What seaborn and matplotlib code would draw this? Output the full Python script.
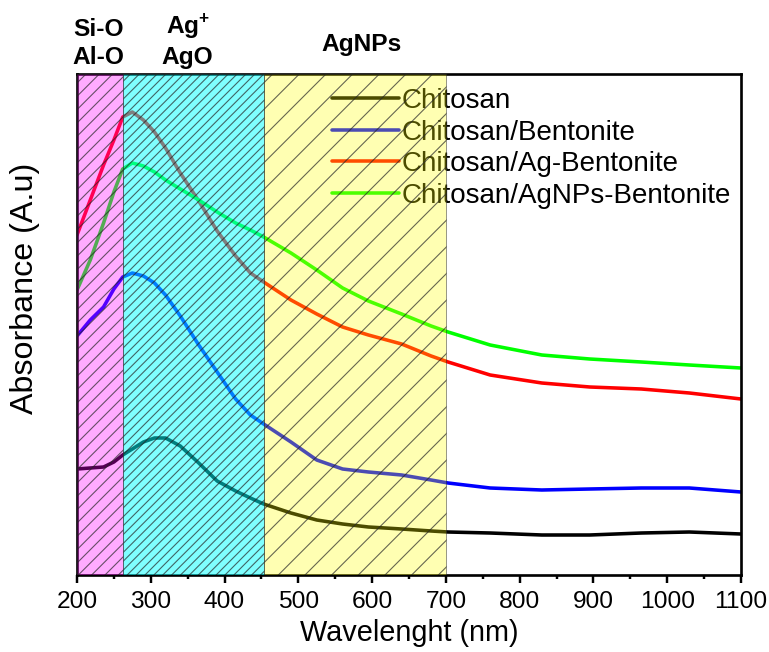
import matplotlib
matplotlib.use("Agg")
import matplotlib.pyplot as plt
import matplotlib.transforms as mtransforms
from matplotlib.ticker import MultipleLocator, NullLocator
import numpy as np
import pandas as pd
import seaborn as sns

# Wavelength grid (nm)
wavelength = [200, 218, 236, 250, 262, 275, 290, 305, 320, 340, 365, 390, 415, 435,
              453, 490, 525, 560, 595, 640, 680, 703, 760, 830, 895, 965, 1030, 1100]

# Absorbance (arbitrary units) for each sample
chitosan = [1.06, 1.07, 1.08, 1.13, 1.20, 1.26, 1.33, 1.37, 1.37, 1.29, 1.12, 0.94, 0.84, 0.77,
            0.71, 0.62, 0.55, 0.51, 0.48, 0.46, 0.44, 0.43, 0.42, 0.40, 0.40, 0.42, 0.43, 0.41]
chitosan_bent = [2.39, 2.55, 2.68, 2.86, 2.98, 3.02, 2.99, 2.92, 2.80, 2.59, 2.30, 2.03, 1.76, 1.60,
                 1.51, 1.33, 1.15, 1.06, 1.03, 1.00, 0.95, 0.92, 0.87, 0.85, 0.86, 0.87, 0.87, 0.83]
chitosan_ag_bent = [3.40, 3.75, 4.10, 4.35, 4.58, 4.63, 4.55, 4.43, 4.27, 4.02, 3.74, 3.44, 3.19, 3.02,
                    2.93, 2.75, 2.61, 2.48, 2.40, 2.31, 2.19, 2.13, 2.00, 1.92, 1.88, 1.86, 1.82, 1.76]
chitosan_agnps_bent = [2.85, 3.15, 3.52, 3.83, 4.06, 4.12, 4.09, 4.03, 3.95, 3.86, 3.75, 3.63, 3.52, 3.45,
                       3.38, 3.22, 3.05, 2.87, 2.74, 2.61, 2.49, 2.43, 2.30, 2.20, 2.16, 2.13, 2.10, 2.07]

labels = ["Chitosan", "Chitosan/Bentonite", "Chitosan/Ag-Bentonite", "Chitosan/AgNPs-Bentonite"]
colors = ["#000000", "#0000FF", "#FF0000", "#00FF00"]

# band regions (nm) and their annotations
bands = [(200, 262), (262, 453), (453, 700)]
band_labels = ["Si-O\nAl-O", "Ag$^{+}$\nAgO", "AgNPs"]

df = pd.DataFrame({
    "wavelength": wavelength * 4,
    "absorbance": chitosan + chitosan_bent + chitosan_ag_bent + chitosan_agnps_bent,
    "sample": sum([[l] * len(wavelength) for l in labels], []),
})

sns.set_style("ticks")
plt.rcParams["font.family"] = ["Liberation Sans", "DejaVu Sans"]
plt.rcParams["text.color"] = "black"
plt.rcParams["axes.labelcolor"] = "black"
plt.rcParams["xtick.color"] = "black"
plt.rcParams["mathtext.fontset"] = "custom"
plt.rcParams["mathtext.rm"] = "Liberation Sans:bold"
plt.rcParams["mathtext.bf"] = "Liberation Sans:bold"
plt.rcParams["hatch.linewidth"] = 1.0

DPI = 80
fig = plt.figure(figsize=(769 / DPI, 652 / DPI), dpi=DPI)
ax = fig.add_axes([77 / 769, 1 - 575 / 652, 664 / 769, 501 / 652])

sns.lineplot(data=df, x="wavelength", y="absorbance", hue="sample", hue_order=labels,
             palette=colors, linewidth=3.2, estimator=None, ax=ax, zorder=2)

# translucent hatched bands over the curves
ax.axvspan(*bands[0], facecolor=(1, 0, 1, 0.33), edgecolor=(0.15, 0.15, 0.15, 0.7),
           hatch="//", linewidth=0.6, zorder=3)
ax.axvspan(*bands[1], facecolor=(0, 1, 1, 0.5), edgecolor=(0.15, 0.15, 0.15, 0.7),
           hatch="///", linewidth=0.6, zorder=3)
ax.axvspan(*bands[2], facecolor=(1, 1, 0, 0.3), edgecolor=(0.15, 0.15, 0.15, 0.7),
           hatch="/", linewidth=0.6, zorder=3)

ax.set_xlim(200, 1100)
ax.set_ylim(0, 5.01)
ax.xaxis.set_major_locator(MultipleLocator(100))
ax.xaxis.set_minor_locator(MultipleLocator(50))
ax.yaxis.set_major_locator(NullLocator())
ax.tick_params(axis="x", which="major", direction="out", length=7, width=2.2, pad=7,
               colors="black")
ax.tick_params(axis="x", which="minor", direction="out", length=4, width=2.2)
for lab in ax.get_xticklabels():
    lab.set_fontsize(22)
for s in ax.spines.values():
    s.set_linewidth(2.4)
    s.set_color("black")

ax.set_xlabel("Wavelenght (nm)", fontsize=26, labelpad=6)
ax.set_ylabel("Absorbance (A.u)", fontsize=29)
ax.yaxis.set_label_coords(-0.056, 0.573)

handles, _ = ax.get_legend_handles_labels()
leg = ax.legend(handles, labels, loc="upper left", bbox_to_anchor=(0.384, 0.972),
                frameon=False, fontsize=25, handlelength=2.4, handletextpad=0.12,
                labelspacing=0.2, borderpad=0, borderaxespad=0)
leg.set_zorder(1)
for line in leg.get_lines():
    line.set_linewidth(3.2)

trans = mtransforms.blended_transform_factory(ax.transData, ax.transAxes)
ax.text(229, 1.01, band_labels[0], transform=trans, ha="center", va="bottom",
        fontsize=22, fontweight="bold", linespacing=1.3)
ax.text(350, 1.01, band_labels[1], transform=trans, ha="center", va="bottom",
        fontsize=22, fontweight="bold", linespacing=1.3)
ax.text(586, 1.035, band_labels[2], transform=trans, ha="center", va="bottom",
        fontsize=22, fontweight="bold")

fig.savefig("out.png", dpi=DPI)
